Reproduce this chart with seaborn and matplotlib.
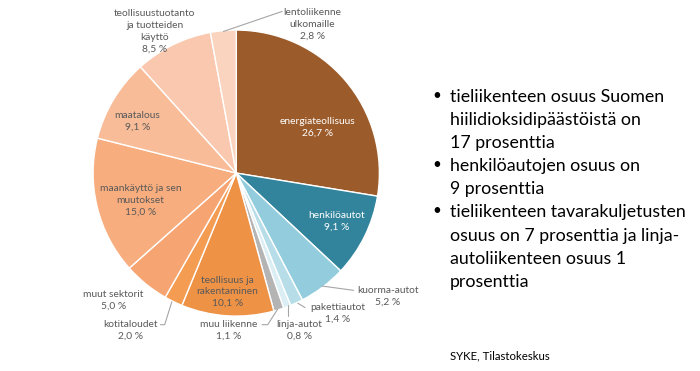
''' hiilidioksidipäästöt sektoreittain, piirakkakuva '''
import matplotlib
matplotlib.use("Agg")
import matplotlib.pyplot as plt
import seaborn as sb
import numpy as np

sectors = ["energiateollisuus", "henkilöautot", "kuorma-autot", "pakettiautot",
           "linja-autot", "muu liikenne", "teollisuus ja\nrakentaminen", "kotitaloudet",
           "muut sektorit", "maankäyttö ja sen\nmuutokset", "maatalous",
           "teollisuustuotanto\nja tuotteiden\nkäyttö", "lentoliikenne\nulkomaille"]
shares = [26.7, 9.1, 5.2, 1.4, 0.8, 1.1, 10.1, 2.0, 5.0, 15.0, 9.1, 8.5, 2.8]
colors = ["#9C5B2A", "#31849B", "#93CDDD", "#B7DEE8", "#DAEEF3", "#B4B4B4",
          "#EE9246", "#F39C52", "#F5A472", "#F7AD7E", "#F8BC98", "#FAC8AE", "#FBD4BF"]

bullets = [["tieliikenteen osuus Suomen", "hiilidioksidipäästöistä on", "17 prosenttia"],
           ["henkilöautojen osuus on", "9 prosenttia"],
           ["tieliikenteen tavarakuljetusten", "osuus on 7 prosenttia ja linja-",
            "autoliikenteen osuus 1", "prosenttia"]]
source = "SYKE, Tilastokeskus"

sb.set_theme(style="white")
plt.rcParams['font.family'] = ['Lato', 'DejaVu Sans']

W, H = 700, 371
fig = plt.figure(figsize=(W / 100, H / 100), dpi=100)
ax = fig.add_axes([0.133, 0.148, 0.409, 0.771])
wedges, _ = ax.pie(shares, colors=colors, startangle=90, counterclock=False,
                   wedgeprops=dict(edgecolor="white", linewidth=1.0))
ax.set_xlim(-1, 1)
ax.set_ylim(-1, 1)
ax.set_aspect("auto")
ax.axis("off")

# label placement (data coords) and leader lines
label_pos = [(0.57, 0.32), (0.70, -0.34), (1.06, -0.86), (0.71, -0.98), (0.44, -1.10),
             (-0.05, -1.10), (-0.06, -0.83), (-0.74, -1.10), (-0.86, -0.89),
             (-0.67, -0.19), (-0.69, 0.36), (-0.57, 0.99), (0.53, 1.04)]
white_text = {0, 1}
leaders = {2: [(0.60, -0.79), (0.82, -0.82)],
           3: [(0.43, -0.91), (0.48, -0.94)],
           4: [(0.36, -0.92), (0.36, -1.00)],
           5: [(0.29, -0.95), (0.22, -1.06), (0.18, -1.06)],
           7: [(-0.45, -0.90), (-0.50, -1.06), (-0.53, -1.06)],
           12: [(-0.09, 0.99), (0.32, 1.13)]}

for i, (name, val) in enumerate(zip(sectors, shares)):
    x, y = label_pos[i]
    txt = f"{name}\n{val:.1f} %".replace(".", ",")
    ax.text(x, y, txt, ha="center", va="center", fontsize=7.4, linespacing=1.38,
            color="white" if i in white_text else "#595959", clip_on=False)
    if i in leaders:
        pts = np.array(leaders[i])
        ax.plot(pts[:, 0], pts[:, 1], color="#A6A6A6", lw=0.8, clip_on=False)

# bullet text on the right, one line at a time
ypix = 97
for b in bullets:
    fig.text(432 / W, 1 - (ypix - 1) / H, "•", fontsize=11, ha="left", va="center",
             color="black")
    for line in b:
        fig.text(450 / W, 1 - ypix / H, line, fontsize=12.8, ha="left", va="center",
                 color="black")
        ypix += 23.1

fig.text(450 / W, 1 - 356 / H, source, fontsize=8.2, color="black", va="center")

fig.savefig("out.png", dpi=100)
